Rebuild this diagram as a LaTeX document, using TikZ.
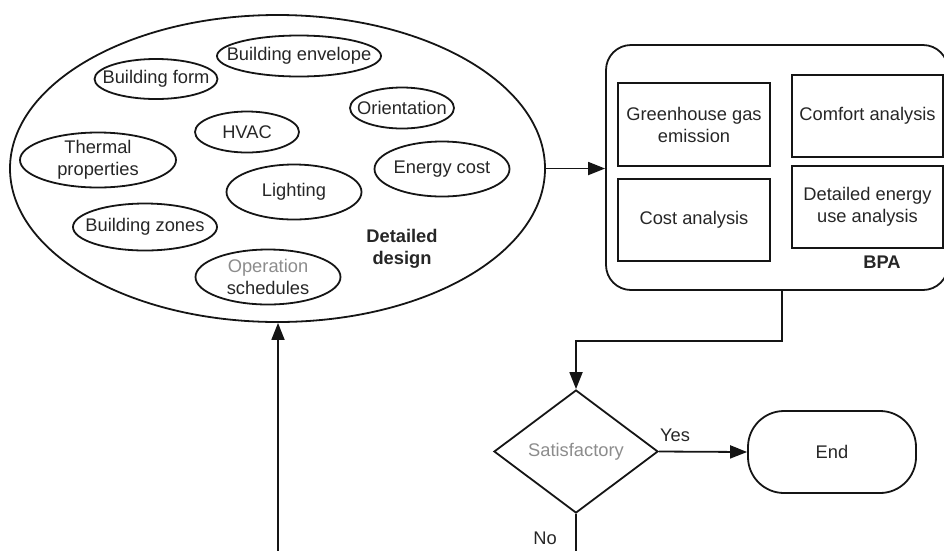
\documentclass[tikz,border=0pt]{standalone}
\usepackage{fontspec}
\setmainfont{Liberation Sans}
\usetikzlibrary{shapes.geometric,arrows.meta}
\definecolor{ink}{HTML}{151515}
\definecolor{txt}{HTML}{262626}
\definecolor{soft}{HTML}{8C8C8C}
\begin{document}
\begin{tikzpicture}[x=1pt,y=-1pt,
  every node/.style={font=\fontsize{18.3}{22}\selectfont, text=txt},
  bold/.style={font=\fontsize{18.3}{22}\selectfont\bfseries, align=center},
  line/.style={draw=ink, line width=1.8pt},
  arrow/.style={line, -{Triangle[length=17pt,width=13pt]}},
  oval/.style 2 args={ellipse, draw=ink, line width=1.8pt, inner sep=0pt,
    minimum width=#1, minimum height=#2},
  box/.style 2 args={rectangle, draw=ink, line width=1.8pt, inner sep=0pt,
    minimum width=#1, minimum height=#2, align=center},
]
\useasboundingbox (0,0) rectangle (944,550);
\clip (0,0) rectangle (944,550);

% detailed design cluster
\node[oval={535pt}{307pt}] (design) at (277.5,168.5) {};
\node[oval={123pt}{40pt}, label=center:Building form] (form) at (156,79) {};
\node[oval={164pt}{41pt}, label=center:Building envelope] (envelope) at (299,56) {};
\node[oval={104pt}{41pt}, label=center:Orientation] (orient) at (402,108) {};
\node[oval={104pt}{41pt}, label=center:HVAC] (hvac) at (247,132) {};
\node[oval={156pt}{55pt}, label={[align=center]center:Thermal\\properties}] (thermal) at (98,160) {};
\node[oval={135pt}{55pt}, label=center:Energy cost] (energy) at (442,169) {};
\node[oval={135pt}{55pt}, label=center:Lighting] (lighting) at (294,192) {};
\node[oval={144pt}{47pt}, label=center:Building zones] (zones) at (145,227) {};
\node[oval={145pt}{55pt}, label={[align=center]center:\textcolor{soft}{Operation}\\schedules}] (sched) at (268,277) {};
\node[bold] (designlabel) at (402,249) {Detailed\\design};

% building performance analysis
\node[rectangle, draw=ink, line width=1.8pt, rounded corners=25pt,
  minimum width=342pt, minimum height=245pt] (bpa) at (777,167.5) {};
\node[box={152pt}{83pt}] (ghg) at (694,124.5) {Greenhouse gas\\emission};
\node[box={151pt}{82pt}] (comfort) at (867.5,116) {Comfort analysis};
\node[box={152pt}{82pt}] (cost) at (694,220) {Cost analysis};
\node[box={151pt}{82pt}] (use) at (867.5,207) {Detailed energy\\use analysis};
\node[bold] (bpalabel) at (882,262) {BPA};

% decision and end
\node[diamond, draw=ink, line width=1.8pt, inner sep=0pt,
  minimum width=164pt, minimum height=123pt,
  label={center:\textcolor{soft}{Satisfactory}}] (sat) at (576,451.5) {};
\node[rectangle, draw=ink, line width=1.8pt, rounded corners=36pt,
  minimum width=168pt, minimum height=82pt] (end) at (832,452) {End};
\node (yes) at (675,435) {Yes};
\node (no) at (545,538) {No};

% connectors
\draw[arrow] (design.east) -- (design.east -| bpa.west);
\coordinate (drop) at (782,341);
\draw[arrow] (drop |- bpa.south) -- (drop) -| (sat.north);
\draw[arrow] (sat.east) -- (end.west);
\coordinate (noout) at (576,560);
\draw[line] (sat.south) -- (noout);
\coordinate (backin) at (278,560);
\draw[arrow] (backin) -- (backin |- design.south);
\end{tikzpicture}
\end{document}
